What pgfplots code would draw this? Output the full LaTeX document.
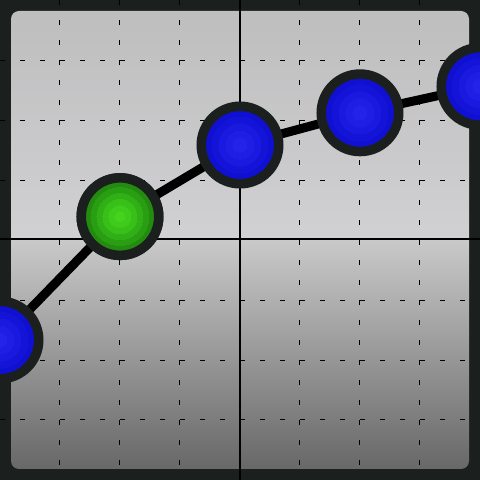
\documentclass[border=0pt]{standalone}
\usepackage{pgfplots}
\pgfplotsset{compat=1.18}
\definecolor{rim}{HTML}{1B1F1D}
\definecolor{bgtop}{HTML}{BDBDBE}
\definecolor{bgmid}{HTML}{D1D0D2}
\definecolor{bglow}{HTML}{C9C9C9}
\definecolor{bglowmid}{HTML}{A4A4A4}
\definecolor{bgbot}{HTML}{626362}
\definecolor{blue0}{HTML}{1010D2}
\definecolor{blue1}{HTML}{1414D8}
\definecolor{blue2}{HTML}{1919DF}
\definecolor{blue3}{HTML}{1E1EE5}
\definecolor{blue4}{HTML}{2323EA}
\definecolor{green0}{HTML}{238C10}
\definecolor{green1}{HTML}{2A9E13}
\definecolor{green2}{HTML}{31AF16}
\definecolor{green3}{HTML}{38BF18}
\definecolor{green4}{HTML}{3ECB1B}
\definecolor{green5}{HTML}{44D41E}

\pgfplotstableread{
x y
-4 -1.667
-2 0.39
0 1.583
2 2.12
4 2.56
}\bluepts
\pgfplotstableread{
x y
-2 0.39
}\greenpts

\begin{document}
\begin{tikzpicture}
\fill[rim] (0,0) rectangle (480pt,480pt);
\begin{scope}
	\clip[rounded corners=8pt] (11pt,11pt) rectangle (469pt,469pt);
	\shade[top color=bgtop, bottom color=bgmid] (0,240pt) rectangle (480pt,480pt);
	\shade[top color=bglow, middle color=bglowmid, bottom color=bgbot] (0,0) rectangle (480pt,240pt);
\end{scope}
\begin{axis}[
	at = {(0,0)},
	anchor = south west,
	scale only axis,
	width = 480pt,
	height = 480pt,
	xmin = -4, xmax = 4,
	ymin = -4, ymax = 4,
	axis line style = {draw=none},
	xtick = {-3, -2, -1, 1, 2, 3},
	ytick = {-3, -2, -1, 1, 2, 3},
	xticklabels = {},
	yticklabels = {},
	major tick length = 0pt,
	grid = major,
	grid style = {black, line width=1pt},
	x grid style = {dash pattern=on 5pt off 15pt, dash phase=5pt},
	y grid style = {dash pattern=on 5pt off 15pt},
	clip = false
]
\draw[black, line width=2pt] (axis cs:0,-4) -- (axis cs:0,4);
\draw[black, line width=2pt] (axis cs:-4,0.02) -- (axis cs:4,0.02);
% line and rimmed balls
\addplot[black, line width=9pt, mark=*, mark size=38.75pt,
	mark options={draw=rim, fill=blue0, line width=9.5pt}] table {\bluepts};
% soft radial shine, built from discs
\addplot[only marks, mark=*, mark size=28pt, color=blue1, line width=0pt] table {\bluepts};
\addplot[only marks, mark=*, mark size=21pt, color=blue2, line width=0pt] table {\bluepts};
\addplot[only marks, mark=*, mark size=14pt, color=blue3, line width=0pt] table {\bluepts};
\addplot[only marks, mark=*, mark size=7pt, color=blue4, line width=0pt] table {\bluepts};
% the green ball
\addplot[only marks, mark=*, mark size=38.75pt,
	mark options={draw=rim, fill=green0, line width=9.5pt}] table {\greenpts};
\addplot[only marks, mark=*, mark size=29pt, color=green1, line width=0pt] table {\greenpts};
\addplot[only marks, mark=*, mark size=23pt, color=green2, line width=0pt] table {\greenpts};
\addplot[only marks, mark=*, mark size=17pt, color=green3, line width=0pt] table {\greenpts};
\addplot[only marks, mark=*, mark size=11pt, color=green4, line width=0pt] table {\greenpts};
\addplot[only marks, mark=*, mark size=5pt, color=green5, line width=0pt] table {\greenpts};
\end{axis}
\pgfresetboundingbox
\useasboundingbox (0,0) rectangle (480pt,480pt);
\end{tikzpicture}
\end{document}
